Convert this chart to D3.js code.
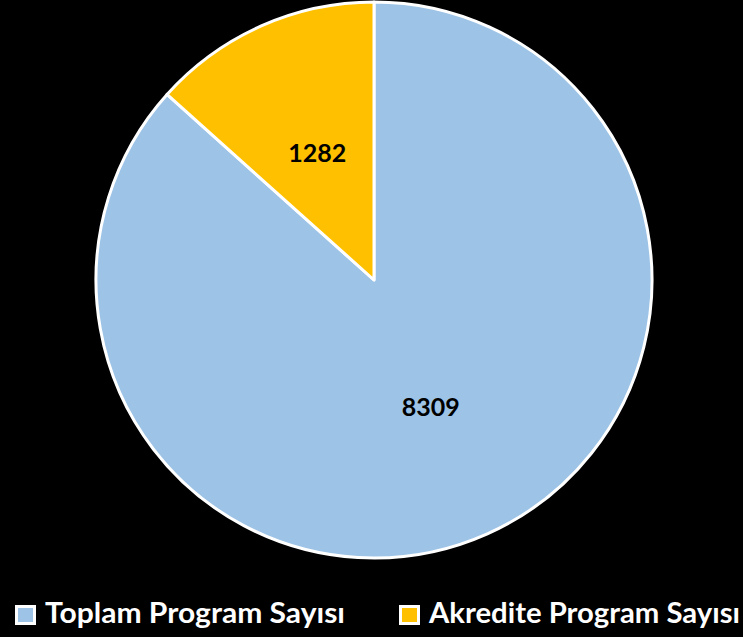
<!DOCTYPE html>
<html><head><meta charset="utf-8">
<script src="https://cdn.jsdelivr.net/npm/d3@7"></script>
<style>html,body{margin:0;padding:0;background:#000;}svg{display:block;}</style>
</head><body>
<script>
const categories = ["Toplam Program Sayısı", "Akredite Program Sayısı"];
const values = [8309, 1282];
const colors = ["#9DC3E6", "#FFC000"];

const W = 743, H = 637;
const svg = d3.select("body").append("svg").attr("width", W).attr("height", H);
svg.append("rect").attr("width", W).attr("height", H).attr("fill", "#000");

const cx = 374, cy = 280, R = 278;
const data = categories.map((c, i) => ({ name: c, value: values[i], color: colors[i] }));
const pie = d3.pie().value(d => d.value).sort(null);
const arc = d3.arc().innerRadius(0).outerRadius(R);
const labelArc = d3.arc().innerRadius(R * 0.5).outerRadius(R * 0.5);

const g = svg.append("g").attr("transform", `translate(${cx},${cy})`);
const arcs = pie(data);
g.selectAll("path").data(arcs).enter().append("path")
  .attr("d", arc).attr("fill", d => d.data.color)
  .attr("stroke", "#fff").attr("stroke-width", 3).attr("stroke-linejoin", "round");

g.selectAll("text").data(arcs).enter().append("text")
  .attr("transform", d => `translate(${labelArc.centroid(d)})`)
  .attr("text-anchor", "middle").attr("dy", "0.36em")
  .attr("font-family", "Lato, 'Open Sans', sans-serif").attr("font-weight", "bold")
  .attr("font-size", 25).attr("fill", "#000")
  .text(d => d.data.value);

const legendX = [15, 399];
const lg = svg.append("g");
data.forEach((d, i) => {
  lg.append("rect").attr("x", legendX[i] + 1.5).attr("y", 606.5).attr("width", 18).attr("height", 17)
    .attr("fill", d.color).attr("stroke", "#fff").attr("stroke-width", 3);
  lg.append("text").attr("x", legendX[i] + 30).attr("y", 623)
    .attr("font-family", "Lato, 'Open Sans', sans-serif").attr("font-weight", "bold")
    .attr("font-size", 28).attr("fill", "#fff")
    .attr("textLength", i === 0 ? 300 : 311).attr("lengthAdjust", "spacingAndGlyphs")
    .text(d.name);
});
</script>
</body></html>
